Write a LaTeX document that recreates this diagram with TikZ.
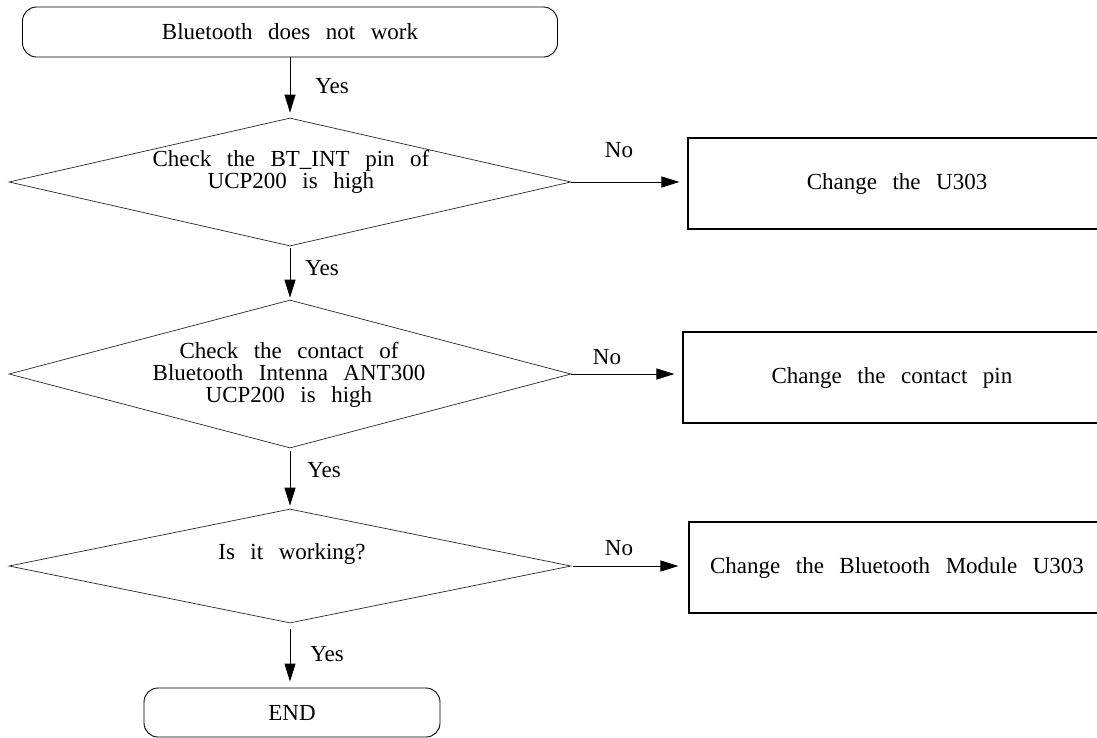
\documentclass[tikz,border=0pt]{standalone}
\usepackage{fontspec}
\setmainfont[WordSpace=2.7]{Liberation Serif}
\usetikzlibrary{shapes.geometric,arrows.meta}
\tikzset{
  txt/.style={font=\fontsize{23}{22}\selectfont, inner sep=0pt, align=center},
  termbox/.style={draw, line width=0.9pt, rounded corners=14pt, inner sep=0pt},
  actbox/.style={draw, line width=1.1pt, inner sep=0pt, font=\fontsize{23}{22}\selectfont},
  decision/.style={draw=black!85, line width=0.7pt, diamond, aspect=3.8, inner sep=0pt},
  flow/.style={line width=0.9pt, -{Triangle[length=18pt,width=11pt]}},
  lbl/.style={font=\fontsize{23}{22}\selectfont, inner sep=0pt}
}
\begin{document}
\begin{tikzpicture}[x=1pt,y=-1pt]
\useasboundingbox (0,0) rectangle (1097,737);
% terminals
\node[termbox, minimum width=535pt, minimum height=50pt, font=\fontsize{23}{22}\selectfont] (start) at (290,32) {Bluetooth does not work};
\node[termbox, minimum width=296pt, minimum height=49pt, font=\fontsize{23}{22}\selectfont] (end) at (292,712.5) {END};
% decisions
\node[decision, minimum width=562pt, minimum height=128pt] (d1) at (290,182) {};
\node[txt] (t1) at (291,172) {Check the BT\_INT pin of\\UCP200 is high};
\node[decision, minimum width=562pt, minimum height=148pt] (d2) at (290,374) {};
\node[txt] (t2) at (289,375) {Check the contact of\\Bluetooth Intenna ANT300\\UCP200 is high};
\node[decision, minimum width=562pt, minimum height=114pt] (d3) at (290,566) {};
\node[txt] (t3) at (292,554) {Is it working?};
% actions
\node[actbox, minimum width=418pt, minimum height=91pt] (b1) at (897,183.5) {Change the U303};
\node[actbox, minimum width=418pt, minimum height=91pt] (b2) at (892,377.5) {Change the contact pin};
\node[actbox, minimum width=416pt, minimum height=91pt] (b3) at (897,567.5) {Change the Bluetooth Module U303};
% vertical flow
\draw[flow, shorten >=5pt] (start.south) -- (d1.north);
\draw[flow, shorten <=2pt, shorten >=2pt] (d1.south) -- (d2.north);
\draw[flow, shorten <=3pt, shorten >=3pt] (d2.south) -- (d3.north);
\draw[flow, shorten <=6pt, shorten >=6pt] (d3.south) -- (d3.south |- end.north);
% horizontal flow
\draw[flow, shorten >=8pt] (d1.east) -- (b1.west |- d1.east);
\draw[flow, shorten >=8pt] (d2.east) -- (b2.west |- d2.east);
\draw[flow, shorten <=2pt, shorten >=10pt] (d3.east) -- (b3.west |- d3.east);
% labels
\node[lbl] (y1) at (332,86) {Yes};
\node[lbl] (y2) at (322,268) {Yes};
\node[lbl] (y3) at (324,470) {Yes};
\node[lbl] (y4) at (327,654) {Yes};
\node[lbl] (n1) at (619,150) {No};
\node[lbl] (n2) at (607,357) {No};
\node[lbl] (n3) at (619,548) {No};
\end{tikzpicture}
\end{document}
